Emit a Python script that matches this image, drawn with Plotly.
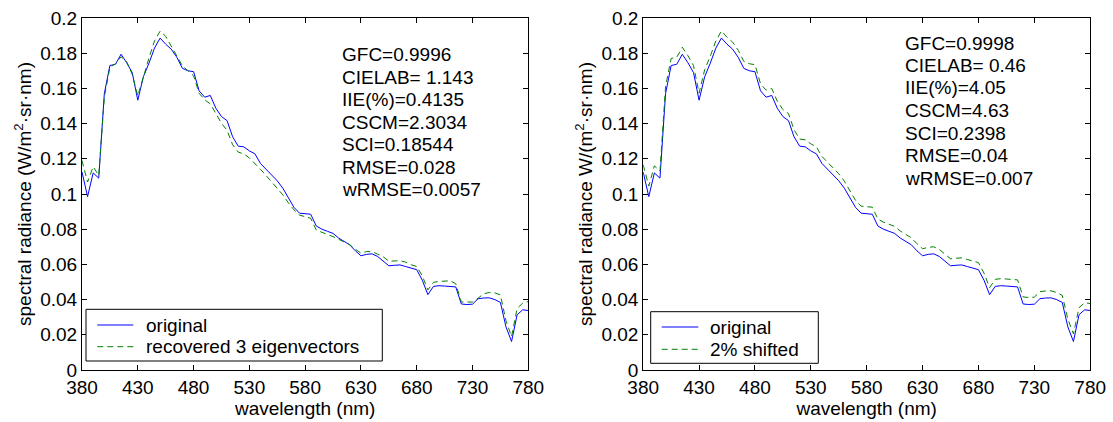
import plotly.graph_objects as go

wavelength_nm = [380, 385, 390, 395, 400, 405, 410, 415, 420, 425, 430, 435, 440, 445, 450,
                 455, 460, 465, 470, 475, 480, 485, 490, 495, 500, 505, 510, 515, 520, 525,
                 530, 535, 540, 545, 550, 555, 560, 565, 570, 575, 580, 585, 590, 595, 600,
                 605, 610, 615, 620, 625, 630, 635, 640, 645, 650, 655, 660, 665, 670, 675,
                 680, 685, 690, 695, 700, 705, 710, 715, 720, 725, 730, 735, 740, 745, 750,
                 755, 760, 765, 770, 775, 780]

original = [0.1125, 0.0985, 0.1120, 0.1090, 0.1570, 0.1730, 0.1737, 0.1794, 0.1746, 0.1690,
            0.1533, 0.1666, 0.1743, 0.1829, 0.1886, 0.1851, 0.1823, 0.1777, 0.1714, 0.1700,
            0.1695, 0.1586, 0.1550, 0.1560, 0.1487, 0.1440, 0.1417, 0.1325, 0.1272, 0.1268,
            0.1245, 0.1228, 0.1173, 0.1140, 0.1103, 0.1075, 0.1033, 0.0977, 0.0924, 0.0891,
            0.0888, 0.0885, 0.0818, 0.0800, 0.0788, 0.0776, 0.0750, 0.0728, 0.0711, 0.0677,
            0.0649, 0.0657, 0.0660, 0.0645, 0.0617, 0.0592, 0.0595, 0.0597, 0.0588, 0.0578,
            0.0570, 0.0510, 0.0428, 0.0475, 0.0479, 0.0477, 0.0475, 0.0472, 0.0375, 0.0372,
            0.0374, 0.0405, 0.0409, 0.0410, 0.0400, 0.0384, 0.0245, 0.0162, 0.0314, 0.0342,
            0.0338]

recovered_3_eigenvectors = [0.1190, 0.1068, 0.1155, 0.1105, 0.1550, 0.1720, 0.1740, 0.1780, 0.1752, 0.1680,
                            0.1557, 0.1672, 0.1772, 0.1870, 0.1925, 0.1896, 0.1842, 0.1790, 0.1728, 0.1700,
                            0.1672, 0.1572, 0.1535, 0.1512, 0.1460, 0.1402, 0.1362, 0.1280, 0.1238, 0.1228,
                            0.1205, 0.1175, 0.1140, 0.1105, 0.1070, 0.1035, 0.0995, 0.0950, 0.0910, 0.0880,
                            0.0870, 0.0862, 0.0795, 0.0781, 0.0770, 0.0758, 0.0744, 0.0728, 0.0712, 0.0686,
                            0.0664, 0.0673, 0.0673, 0.0658, 0.0643, 0.0618, 0.0618, 0.0621, 0.0613, 0.0598,
                            0.0588, 0.0535, 0.0455, 0.0498, 0.0503, 0.0507, 0.0507, 0.0490, 0.0386, 0.0386,
                            0.0386, 0.0408, 0.0433, 0.0440, 0.0438, 0.0427, 0.0280, 0.0190, 0.0350, 0.0380,
                            0.0389]

shifted_2pct = [0.1165, 0.1045, 0.1160, 0.1130, 0.1610, 0.1770, 0.1777, 0.1834, 0.1786, 0.1730,
                0.1573, 0.1706, 0.1783, 0.1869, 0.1926, 0.1891, 0.1863, 0.1817, 0.1754, 0.1740,
                0.1735, 0.1626, 0.1590, 0.1600, 0.1527, 0.1480, 0.1457, 0.1365, 0.1312, 0.1308,
                0.1285, 0.1268, 0.1213, 0.1180, 0.1143, 0.1115, 0.1073, 0.1017, 0.0964, 0.0931,
                0.0928, 0.0925, 0.0858, 0.0840, 0.0828, 0.0816, 0.0790, 0.0768, 0.0751, 0.0717,
                0.0689, 0.0697, 0.0700, 0.0685, 0.0657, 0.0632, 0.0635, 0.0637, 0.0628, 0.0618,
                0.0610, 0.0550, 0.0468, 0.0515, 0.0519, 0.0517, 0.0515, 0.0512, 0.0415, 0.0412,
                0.0414, 0.0445, 0.0449, 0.0450, 0.0440, 0.0424, 0.0290, 0.0205, 0.0354, 0.0382,
                0.0378]

left_stats = ["GFC=0.9996", "CIELAB= 1.143", "IIE(%)=0.4135", "CSCM=2.3034",
              "SCI=0.18544", "RMSE=0.028", "wRMSE=0.0057"]
right_stats = ["GFC=0.9998", "CIELAB= 0.46", "IIE(%)=4.05", "CSCM=4.63",
               "SCI=0.2398", "RMSE=0.04", "wRMSE=0.007"]
left_legend_labels = ["original", "recovered 3 eigenvectors"]
right_legend_labels = ["original", "2% shifted"]

x_tick_values = [380, 430, 480, 530, 580, 630, 680, 730, 780]
y_tick_values = [0, 0.02, 0.04, 0.06, 0.08, 0.1, 0.12, 0.14, 0.16, 0.18, 0.2]
y_tick_labels = ["0", "0.02", "0.04", "0.06", "0.08", "0.1", "0.12", "0.14", "0.16", "0.18", "0.2"]

W, H = 1113, 422
FONT = "Liberation Sans, Arial, Helvetica, sans-serif"
FS = 19
BLUE = "#0000ff"
GREEN = "#008000"
DASH = "6px,4px"

fig = go.Figure()

fig.add_trace(go.Scatter(x=wavelength_nm, y=original, mode="lines", name=left_legend_labels[0],
                         line=dict(color=BLUE, width=1), xaxis="x", yaxis="y", showlegend=False))
fig.add_trace(go.Scatter(x=wavelength_nm, y=recovered_3_eigenvectors, mode="lines",
                         name=left_legend_labels[1],
                         line=dict(color=GREEN, width=1, dash=DASH), xaxis="x", yaxis="y",
                         showlegend=False))
fig.add_trace(go.Scatter(x=wavelength_nm, y=original, mode="lines", name=right_legend_labels[0],
                         line=dict(color=BLUE, width=1), xaxis="x2", yaxis="y2", showlegend=False))
fig.add_trace(go.Scatter(x=wavelength_nm, y=shifted_2pct, mode="lines", name=right_legend_labels[1],
                         line=dict(color=GREEN, width=1, dash=DASH), xaxis="x2", yaxis="y2",
                         showlegend=False))

y_dom = [1 - 370 / H, 1 - 18 / H]

def xaxis(dom, anchor):
    return dict(domain=dom, anchor=anchor, range=[380, 780], tickmode="array",
                tickvals=x_tick_values, ticks="inside", ticklen=5, tickcolor="black",
                showline=True, linecolor="black", linewidth=1, mirror="allticks",
                showgrid=False, zeroline=False, automargin=False,
                tickfont=dict(family=FONT, size=FS, color="black"),
                title=dict(text="wavelength (nm)", font=dict(family=FONT, size=FS, color="black"),
                           standoff=2))

def yaxis(anchor, title):
    return dict(domain=y_dom, anchor=anchor, range=[0, 0.2], tickmode="array",
                tickvals=y_tick_values, ticktext=y_tick_labels, ticks="inside", ticklen=5,
                tickcolor="black", showline=True, linecolor="black", linewidth=1,
                mirror="allticks", showgrid=False, zeroline=False, automargin=False,
                tickfont=dict(family=FONT, size=FS, color="black"),
                title=dict(text=title, font=dict(family=FONT, size=FS, color="black"),
                           standoff=3))

def px_x(p):
    return p / W

def px_y(p):
    return 1 - p / H

annotations = []
shapes = []
for i, s in enumerate(left_stats):
    annotations.append(dict(text=s, xref="paper", yref="paper", x=px_x(340),
                            y=px_y(55 + i * 22.4), xanchor="left", yanchor="middle",
                            showarrow=False, font=dict(family=FONT, size=FS, color="black")))
for i, s in enumerate(right_stats):
    annotations.append(dict(text=s, xref="paper", yref="paper", x=px_x(903),
                            y=px_y(43 + i * 22.5), xanchor="left", yanchor="middle",
                            showarrow=False, font=dict(family=FONT, size=FS, color="black")))

# legend boxes (drawn as decorations so their geometry matches the reference)
def add_legend(box, rows, line_x, text_x, labels):
    x0, y0, x1, y1 = box
    shapes.append(dict(type="rect", xref="paper", yref="paper",
                       x0=px_x(x0), x1=px_x(x1), y0=px_y(y1), y1=px_y(y0),
                       line=dict(color="black", width=1), fillcolor="white", layer="above"))
    styles = [dict(color=BLUE, width=1), dict(color=GREEN, width=1, dash=DASH)]
    for r, lab, st in zip(rows, labels, styles):
        shapes.append(dict(type="line", xref="paper", yref="paper",
                           x0=px_x(line_x[0]), x1=px_x(line_x[1]), y0=px_y(r), y1=px_y(r),
                           line=st, layer="above"))
        annotations.append(dict(text=lab, xref="paper", yref="paper", x=px_x(text_x),
                                y=px_y(r), xanchor="left", yanchor="middle", showarrow=False,
                                font=dict(family=FONT, size=FS, color="black")))

add_legend((86, 309.3, 382.3, 361), (325, 346.7), (97.3, 133.3), 144, left_legend_labels)
add_legend((650.7, 311.7, 818.3, 363.3), (327, 349.3), (661.7, 698.3), 708, right_legend_labels)

fig.update_layout(
    width=W, height=H,
    margin=dict(l=0, r=0, t=0, b=0, autoexpand=False),
    paper_bgcolor="white", plot_bgcolor="white",
    font=dict(family=FONT, size=FS, color="black"),
    xaxis=xaxis([82 / W, 528.3 / W], "y"),
    yaxis=yaxis("x", "spectral radiance (W/m<sup>2</sup>·sr·nm)"),
    xaxis2=xaxis([643.2 / W, 1090.2 / W], "y2"),
    yaxis2=yaxis("x2", "spectral radiance W/(m<sup>2</sup>·sr·nm)"),
    annotations=annotations,
    shapes=shapes,
    showlegend=False,
)

fig.write_html("out.html",
               config={"displayModeBar": False},
               post_script="document.body.style.margin='0px';document.body.style.overflow='hidden';")
